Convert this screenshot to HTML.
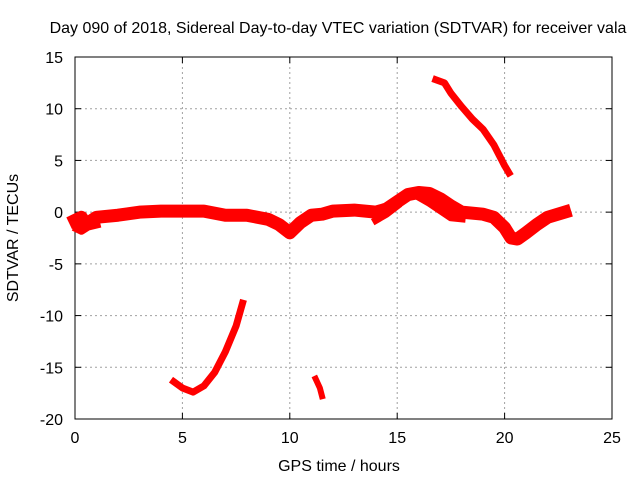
<!DOCTYPE html>
<html><head><meta charset="utf-8"><style>
body{margin:0;background:#fff}
svg{display:block;font-family:"Liberation Sans",sans-serif;font-size:16px}
</style></head><body>
<svg width="640" height="480">
<g id="grid"></g>
<g id="axes"></g>
<g id="series"></g>
<text x="338" y="33" text-anchor="middle">Day 090 of 2018, Sidereal Day-to-day VTEC variation (SDTVAR) for receiver vala</text>
<text x="339" y="471" text-anchor="middle">GPS time / hours</text>
<text x="18" y="238" text-anchor="middle" transform="rotate(-90 18 238)">SDTVAR / TECUs</text>
</svg>
<script>
const xTicks=[0,5,10,15,20,25];
const yTicks=[15,10,5,0,-5,-10,-15,-20];
const bandX=[0,0.3,0.5,1,2,3,4,5,6,7,8,9,9.5,10,10.5,11,11.5,12,13,14,14.5,15,15.5,16,16.5,17,17.5,18,19,19.5,20,20.3,20.6,21,21.5,22,22.8];
const bandY=[-0.8,-0.5,-1.2,-0.5,-0.3,0,0.1,0.1,0.1,-0.3,-0.3,-0.7,-1.2,-2.0,-1.0,-0.3,-0.2,0.1,0.2,0,0.3,1.0,1.7,1.9,1.8,1.3,0.6,0,-0.2,-0.5,-1.5,-2.5,-2.6,-2.0,-1.2,-0.5,0];
const branchX=[16,16.5,17,17.5,18];
const branchY=[1.5,0.9,0.2,-0.5,-0.6];
const offX=[14,14.5,15];
const offY=[-0.8,-0.2,0.6];
const lowBandX=[0.1,0.3,0.6,1.0];
const lowBandY=[-1.6,-1.8,-1.4,-1.2];
const topX=[16.8,17.2,17.5,18,18.5,19,19.5,20,20.2];
const topY=[12.8,12.5,11.5,10.2,9,8,6.5,4.5,3.8];
const lowX=[4.6,5,5.5,6,6.5,7,7.5,7.8];
const lowY=[-16.4,-17,-17.4,-16.8,-15.5,-13.5,-11,-8.8];
const smallX=[11.2,11.4,11.5];
const smallY=[-16.1,-17,-17.8];
const L=75,R=612,T=57,B=419;
const sx=v=>L+(v-0)/25*(R-L), sy=v=>B-(v+20)/35*(B-T);
const NS="http://www.w3.org/2000/svg";
function mk(tag,attrs,parent){const e=document.createElementNS(NS,tag);for(const k in attrs)e.setAttribute(k,attrs[k]);parent.appendChild(e);return e;}
const grid=document.getElementById('grid'),axes=document.getElementById('axes'),ser=document.getElementById('series');
xTicks.forEach(t=>{const x=sx(t);
 if(t>0&&t<25){const g=mk('line',{x1:x,x2:x,y1:T,y2:B,stroke:'#a0a0a0','stroke-dasharray':'2,3'},grid);
 
 }
 mk('line',{x1:x,x2:x,y1:B,y2:B-6,stroke:'#000'},axes);
 mk('line',{x1:x,x2:x,y1:T,y2:T+6,stroke:'#000'},axes);
 const tx=mk('text',{x:x,y:B+24,'text-anchor':'middle'},axes);tx.textContent=t;
 
 
});
yTicks.forEach(t=>{const y=sy(t);
 if(t<15&&t>-20){const g=mk('line',{x1:L,x2:R,y1:y,y2:y,stroke:'#a0a0a0','stroke-dasharray':'2,3'},grid);
 
 }
 mk('line',{x1:L,x2:L+6,y1:y,y2:y,stroke:'#000'},axes);
 mk('line',{x1:R,x2:R-6,y1:y,y2:y,stroke:'#000'},axes);
 const tx=mk('text',{x:L-12,y:y+6,'text-anchor':'end'},axes);tx.textContent=t;
 
 
});
mk('rect',{x:L,y:T,width:R-L,height:B-T,fill:'none',stroke:'#000'},axes);
function draw(xs,ys,w,name){
 const pts=xs.map((v,i)=>sx(v)+','+sy(ys[i])).join(' ');
 const p=mk('polyline',{points:pts,fill:'none',stroke:'#ff0000','stroke-width':w,'stroke-linejoin':'round','stroke-linecap':'square'},ser);
 
 
}
draw(bandX,bandY,13,'main-band-series');
draw(lowBandX,lowBandY,8,'early-band-series');
draw(branchX,branchY,8,'branch-series');
draw(offX,offY,7,'offshoot-series');
draw(topX,topY,7,'upper-arc-series');
draw(lowX,lowY,7,'lower-arc-series');
draw(smallX,smallY,6,'small-segment-series');
</script>
</body></html>
